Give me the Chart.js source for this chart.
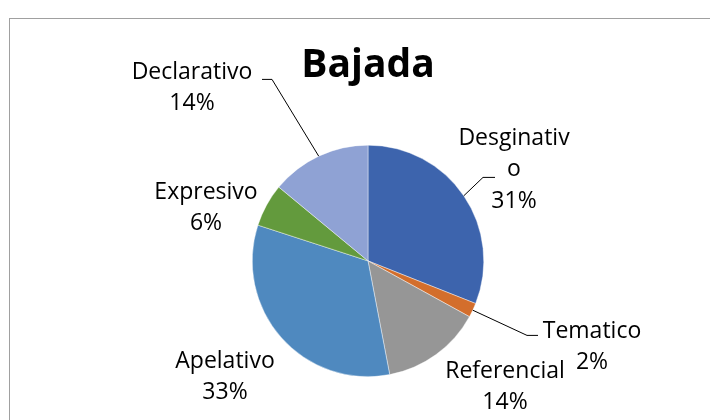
<!DOCTYPE html>
<html lang="es">
<head>
    <meta charset="UTF-8">
    <title>Bajada</title>
    <script src="https://cdn.jsdelivr.net/npm/chart.js"></script>
    <style>
        body { margin: 0; background: white; overflow: hidden; }
        .frame {
            position: absolute;
            left: 9px;
            top: 18px;
            width: 760px;
            height: 460px;
            border: 1px solid #a0a0a0;
        }
        .wrap { position: absolute; left: 0; top: 0; width: 710px; height: 420px; }
    </style>
</head>
<body>
    <div class="frame"></div>
    <div class="wrap"><canvas id="pieChart" width="710" height="420"></canvas></div>

    <script>
        // datos
        const categories = ['Desginativo', 'Tematico', 'Referencial', 'Apelativo', 'Expresivo', 'Declarativo'];
        const values = [31, 2, 14, 33, 6, 14];
        const colors = ['#3d64ad', '#d36e2c', '#969696', '#4f89bf', '#639a3d', '#8fa2d4'];

        // posicion de las etiquetas, relativa al centro del pastel (x centro, y linea base)
        const labelPos = [[146, -116], [224, 77], [137, 117], [-143, 107], [-162, -62], [-176, -182]];
        // corte de palabra como en Excel
        const labelWrap = [10, 0, 0, 0, 0, 0];
        // lineas guia: codo y final horizontal, relativos al centro
        const leaders = [[115, -84, 127], [159, 74, 170], null, null, null, [-96, -182, -106]];

        const labelPlugin = {
            id: 'pieLabels',
            afterDatasetsDraw(chart) {
                const ctx = chart.ctx;
                const meta = chart.getDatasetMeta(0);
                const total = values.reduce((a, b) => a + b, 0);
                ctx.save();
                meta.data.forEach((arc, i) => {
                    const cx = arc.x, cy = arc.y;
                    const mid = (arc.startAngle + arc.endAngle) / 2;
                    const r = arc.outerRadius;
                    if (leaders[i]) {
                        const [ex, ey, hx] = leaders[i];
                        ctx.beginPath();
                        ctx.moveTo(cx + Math.cos(mid) * r, cy + Math.sin(mid) * r);
                        ctx.lineTo(cx + ex, cy + ey + 0.5);
                        ctx.lineTo(cx + hx, cy + ey + 0.5);
                        ctx.strokeStyle = '#000';
                        ctx.lineWidth = 1;
                        ctx.stroke();
                    }
                    let name = categories[i];
                    let lines = labelWrap[i] ? [name.slice(0, labelWrap[i]), name.slice(labelWrap[i])] : [name];
                    lines.push(Math.round(values[i] / total * 100) + '%');
                    ctx.font = '23px "Open Sans"';
                    ctx.fillStyle = '#000';
                    ctx.textAlign = 'center';
                    ctx.textBaseline = 'alphabetic';
                    const [lx, ly] = labelPos[i];
                    lines.forEach((t, k) => {
                        ctx.fillText(t, cx + lx, cy + ly + k * 31.5);
                    });
                });
                ctx.restore();
            }
        };

        new Chart(document.getElementById('pieChart'), {
            type: 'pie',
            data: {
                labels: categories,
                datasets: [{
                    data: values,
                    backgroundColor: colors,
                    borderColor: 'rgba(255,255,255,0.6)',
                    borderWidth: 0.7
                }]
            },
            options: {
                responsive: false,
                animation: false,
                layout: { padding: { left: 150, right: 124, top: 20, bottom: 43 } },
                plugins: {
                    legend: { display: false },
                    tooltip: { enabled: false },
                    title: {
                        display: true,
                        text: 'Bajada',
                        color: '#000',
                        font: { family: 'Open Sans', size: 39, weight: 'bold', lineHeight: 1.2 },
                        padding: { top: 22, bottom: 56 }
                    }
                }
            },
            plugins: [labelPlugin]
        });
    </script>
</body>
</html>
